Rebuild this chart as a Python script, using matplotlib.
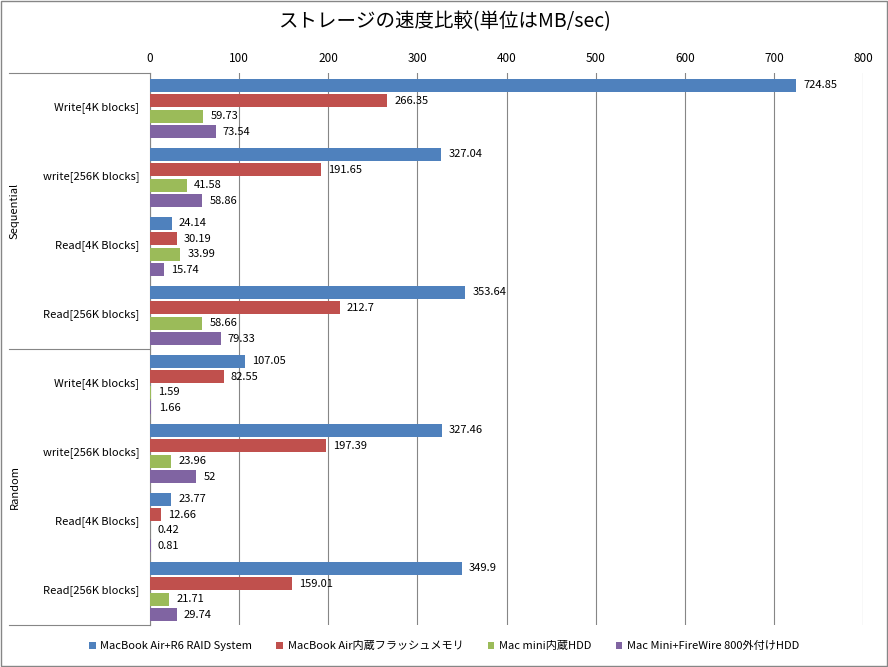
import matplotlib
matplotlib.use("Agg")
import matplotlib.pyplot as plt
import numpy as np

plt.rcParams['font.family'] = ['Noto Sans CJK JP', 'DejaVu Sans']

groups = ["Sequential", "Random"]
categories = ["Write[4K blocks]", "write[256K blocks]", "Read[4K Blocks]", "Read[256K blocks]"]
series_names = ["MacBook Air+R6 RAID System", "MacBook Air内蔵フラッシュメモリ",
                "Mac mini内蔵HDD", "Mac Mini+FireWire 800外付けHDD"]
colors = ["#4F81BD", "#C0504D", "#9BBB59", "#8064A2"]
values = [
    [724.85, 327.04, 24.14, 353.64, 107.05, 327.46, 23.77, 349.9],
    [266.35, 191.65, 30.19, 212.7, 82.55, 197.39, 12.66, 159.01],
    [59.73, 41.58, 33.99, 58.66, 1.59, 23.96, 0.42, 21.71],
    [73.54, 58.86, 15.74, 79.33, 1.66, 52, 0.81, 29.74],
]

W, H = 888, 667
fig = plt.figure(figsize=(W / 100, H / 100), dpi=100)
ax = fig.add_axes([150 / W, 1 - 625 / H, (863 - 150) / W, (625 - 73) / H])

ncat = len(groups) * len(categories)
bar_h = 13 / 69
step = 15.5 / 69
for s, (name, col, vals) in enumerate(zip(series_names, colors, values)):
    ys = np.arange(ncat) + 0.08 + s * step + bar_h / 2
    ax.barh(ys, vals, height=bar_h, color=col, label=name, zorder=3)
    for y, v in zip(ys, vals):
        ax.text(v + 8, y, f"{v:g}", va="center", ha="left", fontsize=8, zorder=4)

ax.set_ylim(ncat, 0)
ax.set_xlim(0, 800)
ax.set_xticks(range(0, 801, 100))
ax.xaxis.tick_top()
ax.tick_params(axis="x", length=0, labelsize=8.5, pad=6)
ax.set_yticks([])
ax.grid(axis="x", color="#868686", linewidth=0.8, zorder=0)
for sp in ["right", "bottom", "top"]:
    ax.spines[sp].set_visible(False)
ax.spines["left"].set_color("#868686")

# category and group labels
labels = categories * len(groups)
for i, lab in enumerate(labels):
    ax.text(-12, i + 0.5, lab, ha="right", va="center", fontsize=8)
for g, name in enumerate(groups):
    ax.text(-152, g * 4 + 2, name, ha="center", va="center", rotation=90, fontsize=8)
for yb in [0, 4, 8]:
    ax.plot([-158, 0], [yb, yb], color="#868686", linewidth=0.8, clip_on=False)

fig.text(0.5, 1 - 22 / H, "ストレージの速度比較(単位はMB/sec)", ha="center", va="center", fontsize=14)

fig.legend(loc="center", bbox_to_anchor=(0.5, 1 - 646 / H), ncol=4, frameon=False,
           fontsize=8, handlelength=0.6, handleheight=0.6, columnspacing=2.2, handletextpad=0.4)

fig.patches.append(plt.Rectangle((0.001, 0.001), 0.998, 0.998, transform=fig.transFigure,
                                 fill=False, edgecolor="#868686", linewidth=1))
fig.savefig("out.png", dpi=100)
